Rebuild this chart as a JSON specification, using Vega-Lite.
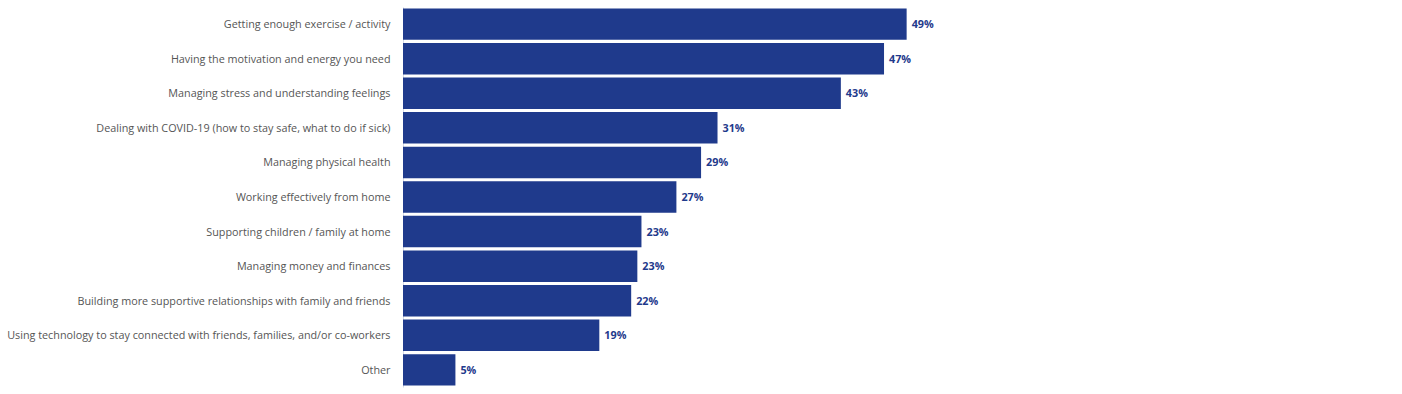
{
  "$schema": "https://vega.github.io/schema/vega-lite/v6.json",
  "autosize": {"type": "none"},
  "width": 997,
  "height": 380,
  "padding": {"left": 403, "top": 7, "right": 2, "bottom": 7},
  "background": "white",
  "config": {"view": {"stroke": null}, "font": "Open Sans"},
  "data": {
    "values": [
      {"category": "Getting enough exercise / activity", "value": 0.490},
      {"category": "Having the motivation and energy you need", "value": 0.468},
      {"category": "Managing stress and understanding feelings", "value": 0.426},
      {"category": "Dealing with COVID-19 (how to stay safe, what to do if sick)", "value": 0.306},
      {"category": "Managing physical health", "value": 0.290},
      {"category": "Working effectively from home", "value": 0.266},
      {"category": "Supporting children / family at home", "value": 0.232},
      {"category": "Managing money and finances", "value": 0.228},
      {"category": "Building more supportive relationships with family and friends", "value": 0.222},
      {"category": "Using technology to stay connected with friends, families, and/or co-workers", "value": 0.191},
      {"category": "Other", "value": 0.051}
    ]
  },
  "encoding": {
    "y": {
      "field": "category",
      "type": "nominal",
      "sort": null,
      "scale": {"paddingInner": 0.09, "paddingOuter": 0.04},
      "axis": {
        "title": null,
        "ticks": false,
        "labelPadding": 13,
        "labelFont": "Open Sans",
        "labelFontSize": 10.8,
        "labelColor": "#555555",
        "labelLimit": 0,
        "labelOffset": 1,
        "domainColor": "#d3d9e8",
        "domainWidth": 1
      }
    },
    "x": {
      "field": "value",
      "type": "quantitative",
      "scale": {"domain": [0, 0.97], "nice": false},
      "axis": null
    }
  },
  "layer": [
    {"mark": {"type": "bar", "color": "#1f3a8c", "cornerRadius": 0}},
    {
      "mark": {
        "type": "text",
        "align": "left",
        "baseline": "middle",
        "dx": 5,
        "dy": 1,
        "font": "Open Sans",
        "fontSize": 10.8,
        "fontWeight": "bold",
        "color": "#1f3a8c"
      },
      "encoding": {"text": {"field": "value", "type": "quantitative", "format": ".0%"}}
    }
  ]
}
